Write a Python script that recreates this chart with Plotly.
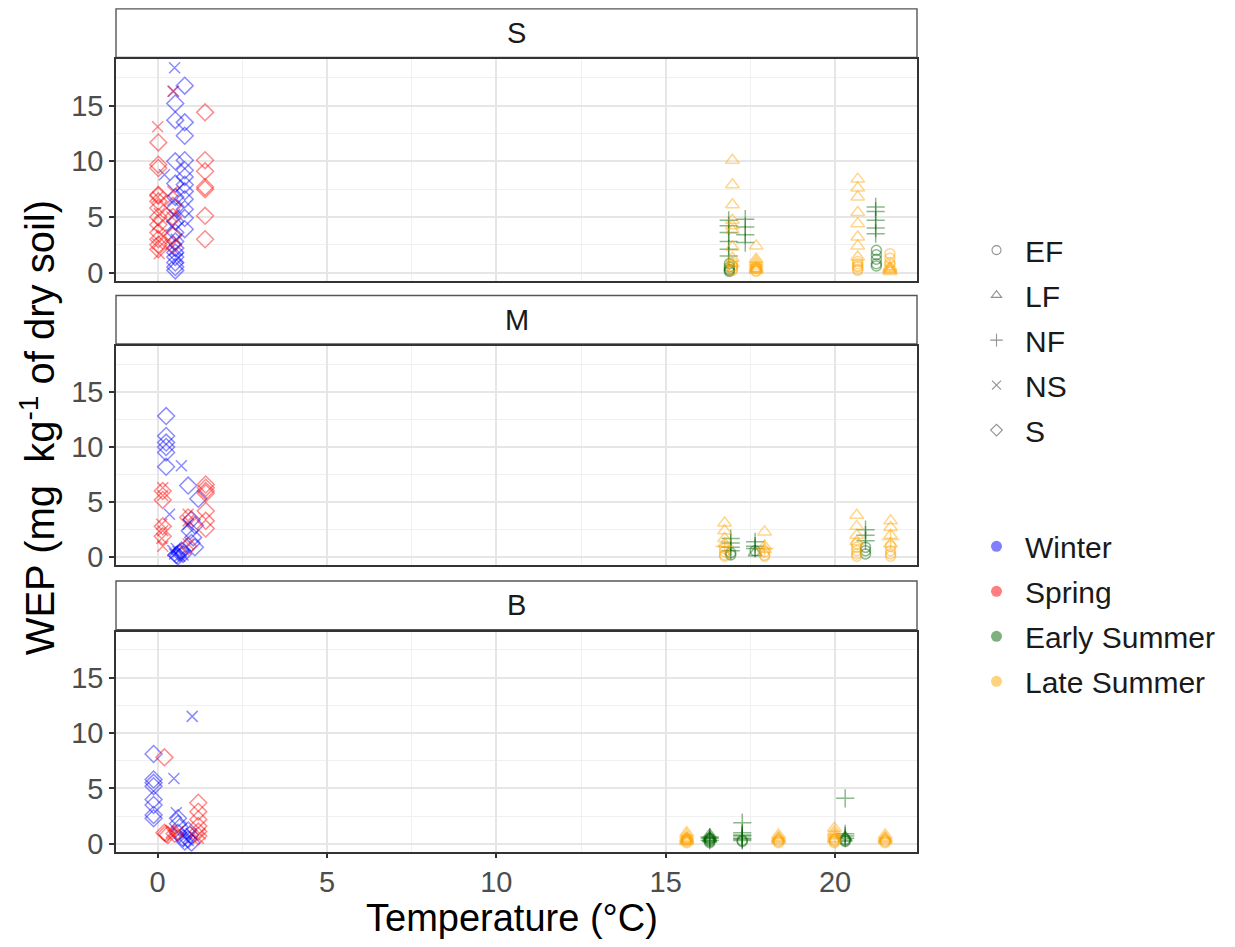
import plotly.graph_objects as go

W, H = 1235, 947

# ---------------- data ----------------
panels = ["S", "M", "B"]
seasons = ["Winter", "Spring", "Early Summer", "Late Summer"]
treatments = ["EF", "LF", "NF", "NS", "S"]
x_ticks = [0, 5, 10, 15, 20]
y_ticks = [0, 5, 10, 15]

# (season, treatment, temperature(s), WEP values)
S_groups = [
    ("Winter", "NS", [0.5, 0.47, 0.2, 0.45, 0.5, 0.42, 0.55, 0.5, 0.6], [18.4, 16.3, 8.8, 6.5, 5.2, 4.2, 3.0, 2.0, 1.3]),
    ("Winter", "S", 0.52, [15.2, 13.7, 10.0, 8.0, 6.8, 5.8, 4.6, 3.6, 2.8, 2.2, 1.8, 1.4, 0.9, 0.5, 0.2]),
    ("Winter", "S", 0.8, [16.8, 13.5, 12.3, 10.1, 9.2, 8.6, 7.9, 7.3, 6.6, 5.7, 4.9, 3.9]),
    ("Spring", "NS", [0.0, 0.45, 0.0, 0.05, 0.0, 0.1, 0.0, 0.05, 0.45, 0.42, 0.4], [13.1, 16.3, 6.8, 5.3, 4.3, 3.4, 2.6, 1.7, 7.3, 5.0, 2.5]),
    ("Spring", "S", 0.02, [11.7, 9.7, 9.4, 7.0, 6.9, 6.4, 5.8, 5.0, 4.3, 3.6, 3.0, 2.5, 2.1]),
    ("Spring", "S", 0.45, [6.0, 5.0, 3.3, 2.5]),
    ("Spring", "S", 1.4, [14.4, 10.1, 9.1, 7.7, 7.5, 5.1, 3.0]),
    ("Early Summer", "EF", 16.88, [0.1, 0.2, 0.3, 0.5, 0.8]),
    ("Early Summer", "NF", 16.86, [4.7, 4.2, 3.6, 2.8, 2.1, 1.5]),
    ("Early Summer", "NF", 17.35, [4.8, 4.1, 3.4, 2.7]),
    ("Early Summer", "EF", 21.22, [2.0, 1.6, 1.2, 0.8, 0.6]),
    ("Early Summer", "NF", 21.2, [5.9, 5.5, 4.7, 4.0, 3.5]),
    ("Late Summer", "LF", 16.97, [10.1, 7.9, 6.1, 4.7, 4.2, 3.8, 2.3, 1.3, 0.8]),
    ("Late Summer", "EF", 16.97, [0.2, 0.3, 0.5, 0.6, 0.9]),
    ("Late Summer", "LF", 17.67, [2.4, 1.2, 1.0, 0.8, 0.6, 0.4, 0.3, 0.2]),
    ("Late Summer", "EF", 17.67, [0.1, 0.2, 0.4, 0.5]),
    ("Late Summer", "LF", 20.67, [8.4, 7.6, 6.8, 5.4, 4.4, 3.2, 2.4, 1.4]),
    ("Late Summer", "EF", 20.67, [0.2, 0.3, 0.5, 0.6, 0.8, 1.0]),
    ("Late Summer", "LF", 21.62, [0.1, 0.2, 0.3, 0.4, 0.5]),
    ("Late Summer", "EF", 21.62, [1.7, 1.3, 0.9, 0.7]),
]

M_groups = [
    ("Winter", "S", 0.25, [12.8, 11.0, 10.4, 10.0, 9.5, 8.2]),
    ("Winter", "S", [0.9, 1.2, 1.0, 1.1, 0.95, 1.05, 1.0, 1.1], [6.5, 5.3, 3.4, 2.9, 2.4, 1.8, 1.3, 0.9]),
    ("Winter", "S", [0.55, 0.65, 0.7, 0.6, 0.75], [0.2, 0.4, 0.6, 0.1, 0.3]),
    ("Winter", "NS", [0.7, 0.35, 0.5, 0.6, 0.75, 0.9, 0.55, 0.65, 0.45], [8.3, 3.9, 0.3, 0.5, 0.2, 3.0, 0.8, 0.1, 0.6]),
    ("Spring", "NS", [0.15, 0.15, 0.12, 0.15, 0.12, 0.15, 0.9, 0.9, 0.9], [6.3, 5.6, 3.0, 2.4, 1.7, 1.0, 3.9, 3.3, 1.2]),
    ("Spring", "S", 0.15, [6.0, 5.2, 2.8, 1.9]),
    ("Spring", "S", 1.42, [6.6, 6.3, 6.0, 5.8, 4.2, 3.3, 2.6]),
    ("Spring", "S", 0.9, [3.6, 1.0]),
    ("Early Summer", "NF", 16.92, [1.7, 1.3, 0.9, 0.6]),
    ("Early Summer", "EF", 16.92, [0.2, 0.4]),
    ("Early Summer", "NF", 17.64, [1.4, 1.0, 0.8]),
    ("Early Summer", "EF", 17.64, [0.6]),
    ("Early Summer", "LF", 17.64, [0.4]),
    ("Early Summer", "NF", 20.9, [2.5, 2.0, 1.5]),
    ("Early Summer", "EF", 20.9, [0.3, 0.6, 0.9]),
    ("Late Summer", "LF", 16.74, [3.1, 2.4, 1.7, 1.2]),
    ("Late Summer", "EF", 16.74, [0.1, 0.2, 0.5, 0.8]),
    ("Late Summer", "NF", 16.74, [1.0]),
    ("Late Summer", "LF", 17.92, [2.3, 1.0, 0.7]),
    ("Late Summer", "EF", 17.92, [0.1, 0.2, 0.5]),
    ("Late Summer", "NF", 17.92, [0.8]),
    ("Late Summer", "LF", 20.64, [3.8, 2.8, 2.0, 1.4]),
    ("Late Summer", "EF", 20.64, [0.1, 0.3, 0.6, 0.9, 1.2]),
    ("Late Summer", "LF", 21.64, [3.3, 2.7, 2.0, 1.2]),
    ("Late Summer", "EF", 21.64, [0.1, 0.3, 0.6, 1.0]),
    ("Late Summer", "NF", 21.64, [1.6]),
]

B_groups = [
    ("Winter", "NS", [1.02, 0.48, 0.55, 0.8, 0.9, 1.0], [11.5, 5.9, 2.8, 0.6, 0.3, 0.9]),
    ("Winter", "S", -0.12, [8.1, 5.8, 5.5, 5.2, 4.0, 3.5, 2.6, 2.3]),
    ("Winter", "S", [0.6, 0.6, 0.65, 0.6, 0.9, 0.95, 0.9, 1.0, 0.75, 0.8], [2.3, 1.8, 1.5, 1.0, 1.2, 0.8, 0.4, 0.1, 0.5, 0.2]),
    ("Spring", "S", [0.2, 0.2, 0.25, 0.3, 0.5], [7.8, 1.0, 0.9, 0.8, 0.9]),
    ("Spring", "S", 1.2, [3.7, 2.9, 2.2, 1.6, 1.1, 0.7]),
    ("Spring", "NS", [0.4, 0.45, 0.6, 1.2, 1.25], [1.0, 0.8, 1.1, 0.5, 0.9]),
    ("Early Summer", "LF", 16.3, [0.8, 0.6, 0.5, 0.4]),
    ("Early Summer", "EF", 16.3, [0.1, 0.2, 0.3, 0.4, 0.5]),
    ("Early Summer", "NF", 16.3, [0.6, 0.5, 0.3]),
    ("Early Summer", "NF", 17.26, [1.9, 1.0, 0.8, 0.7, 0.5, 0.4, 0.3]),
    ("Early Summer", "EF", 17.26, [0.2, 0.3]),
    ("Early Summer", "NF", 20.3, [4.1, 0.9, 0.7, 0.5]),
    ("Early Summer", "EF", 20.3, [0.2, 0.3, 0.4]),
    ("Early Summer", "LF", 20.3, [0.6, 0.5]),
    ("Late Summer", "LF", 15.62, [1.0, 0.8, 0.6, 0.5, 0.4, 0.3, 0.2]),
    ("Late Summer", "EF", 15.62, [0.1, 0.2, 0.3, 0.4, 0.5]),
    ("Late Summer", "LF", 18.33, [0.8, 0.6, 0.5, 0.4, 0.3]),
    ("Late Summer", "EF", 18.33, [0.1, 0.2, 0.3]),
    ("Late Summer", "LF", 19.98, [1.4, 1.1, 0.9, 0.7, 0.5, 0.4]),
    ("Late Summer", "EF", 19.98, [0.1, 0.2, 0.3, 0.4]),
    ("Late Summer", "LF", 21.48, [0.8, 0.6, 0.5, 0.4, 0.3]),
    ("Late Summer", "EF", 21.48, [0.1, 0.2, 0.3]),
]

# ---------------- styles ----------------
FONT = "Liberation Sans, Arial, sans-serif"
ALPHA = 0.45
season_rgb = {
    "Winter": (0, 0, 255),
    "Spring": (255, 0, 0),
    "Early Summer": (0, 100, 0),
    "Late Summer": (255, 165, 0),
}
symbol_of = {
    "EF": "circle-open",
    "LF": "triangle-up-open",
    "NF": "cross-thin-open",
    "NS": "x-thin-open",
    "S": "diamond-open",
}
size_of = {"EF": 10, "LF": 12, "NF": 13, "NS": 11, "S": 13}


def rgba(rgb, a):
    return "rgba(%d,%d,%d,%.3f)" % (rgb[0], rgb[1], rgb[2], a)


def px_x(p):
    return p / W


def px_y(p):
    return 1 - p / H


PLOT_L, PLOT_R = 116, 917
panel_px = {"S": (60, 283), "M": (349, 570), "B": (637, 859)}
strip_px = {"S": (9, 58), "M": (298, 347), "B": (586, 635)}
XRANGE = [-1.23, 22.42]
YRANGE = [-0.72, 19.15]

fig = go.Figure()

group_sets = {"S": S_groups, "M": M_groups, "B": B_groups}
for i, pname in enumerate(panels):
    ax = "" if i == 0 else str(i + 1)
    for season, treat, temps, vals in group_sets[pname]:
        xs = temps if isinstance(temps, list) else [temps] * len(vals)
        col = rgba(season_rgb[season], ALPHA)
        fig.add_trace(go.Scatter(
            x=xs, y=vals, mode="markers",
            xaxis="x" + ax, yaxis="y" + ax,
            showlegend=False, hoverinfo="x+y",
            marker=dict(symbol=symbol_of[treat], size=size_of[treat], color=col,
                        line=dict(color=col, width=1.5)),
        ))

for t in treatments:
    fig.add_trace(go.Scatter(
        x=[None], y=[None], mode="markers", name=t, legend="legend", legendgroup="t" + t,
        marker=dict(symbol=symbol_of[t], size=9, color="rgba(110,110,110,0.75)",
                    line=dict(color="rgba(110,110,110,0.75)", width=1.1)),
    ))
for s in seasons:
    fig.add_trace(go.Scatter(
        x=[None], y=[None], mode="markers", name=s, legend="legend2", legendgroup="s" + s,
        marker=dict(symbol="circle", size=11, color=rgba(season_rgb[s], 0.5)),
    ))

legend_common = dict(xanchor="left", yanchor="middle", traceorder="grouped",
                     tracegroupgap=3, itemsizing="trace", itemwidth=47,
                     font=dict(size=30, color="#1A1A1A", family=FONT),
                     bgcolor="rgba(0,0,0,0)")
layout = dict(
    width=W, height=H,
    margin=dict(l=0, r=0, t=0, b=0),
    paper_bgcolor="white", plot_bgcolor="white",
    font=dict(family=FONT, size=29, color="#1A1A1A"),
    showlegend=True,
    legend=dict(x=px_x(968), y=px_y(343), **legend_common),
    legend2=dict(x=px_x(968), y=px_y(619), **legend_common),
)

grid_major = "#E6E6E6"
grid_minor = "#F0F0F0"
for i, pname in enumerate(panels):
    suffix = "" if i == 0 else str(i + 1)
    top, bot = panel_px[pname]
    bottom_panel = (i == len(panels) - 1)
    layout["xaxis" + suffix] = dict(
        domain=[px_x(PLOT_L), px_x(PLOT_R)], anchor="y" + suffix,
        range=XRANGE, tickvals=x_ticks, showticklabels=bottom_panel,
        ticks="outside" if bottom_panel else "", ticklen=4, tickwidth=1.5, tickcolor="#333333",
        tickfont=dict(size=29, color="#4D4D4D", family=FONT),
        showgrid=True, gridcolor=grid_major, gridwidth=1.6,
        minor=dict(dtick=2.5, tick0=0, showgrid=True, gridcolor=grid_minor, gridwidth=1),
        zeroline=False, showline=True, mirror=True, linecolor="#333333", linewidth=1.6,
    )
    layout["yaxis" + suffix] = dict(
        domain=[px_y(bot), px_y(top)], anchor="x" + suffix,
        range=YRANGE, tickvals=y_ticks,
        ticks="outside", ticklen=5, tickwidth=1.5, tickcolor="#333333",
        tickfont=dict(size=29, color="#4D4D4D", family=FONT),
        showgrid=True, gridcolor=grid_major, gridwidth=1.6,
        minor=dict(dtick=2.5, tick0=0, showgrid=True, gridcolor=grid_minor, gridwidth=1),
        zeroline=False, showline=True, mirror=True, linecolor="#333333", linewidth=1.6,
    )

shapes = []
annotations = []
for pname in panels:
    st, sb = strip_px[pname]
    shapes.append(dict(type="rect", xref="paper", yref="paper",
                       x0=px_x(PLOT_L), x1=px_x(PLOT_R), y0=px_y(sb), y1=px_y(st),
                       fillcolor="white", line=dict(color="#555555", width=1.4), layer="below"))
    annotations.append(dict(text=pname, xref="paper", yref="paper",
                            x=px_x((PLOT_L + PLOT_R) / 2), y=px_y((st + sb) / 2),
                            xanchor="center", yanchor="middle", showarrow=False,
                            font=dict(size=29, color="#1A1A1A", family=FONT)))

annotations.append(dict(text="Temperature (°C)", xref="paper", yref="paper",
                        x=px_x(512), y=px_y(926), xanchor="center", yanchor="middle",
                        showarrow=False, font=dict(size=38, color="black", family=FONT)))
annotations.append(dict(text="WEP (mg  kg<sup>-1</sup> of dry soil)", xref="paper", yref="paper",
                        x=px_x(38), y=px_y(432), xanchor="center", yanchor="middle", textangle=-90,
                        showarrow=False, font=dict(size=40, color="black", family=FONT)))

layout["shapes"] = shapes
layout["annotations"] = annotations
fig.update_layout(**layout)

fig.write_html("out.html")
